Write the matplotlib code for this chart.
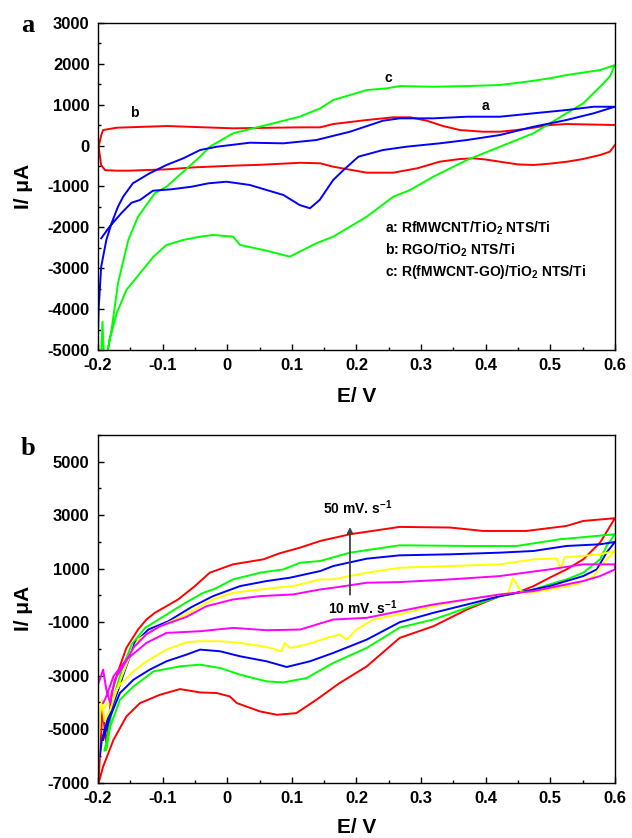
import numpy as np
import matplotlib
matplotlib.use("Agg")
import matplotlib.pyplot as plt
from matplotlib.ticker import MultipleLocator, FixedLocator, FuncFormatter

plt.rcParams['font.family'] = ['Liberation Sans', 'DejaVu Sans']
plt.rcParams['font.weight'] = 'bold'
plt.rcParams['axes.unicode_minus'] = False
plt.rcParams['mathtext.fontset'] = 'custom'
plt.rcParams['mathtext.rm'] = 'Liberation Sans:bold'
plt.rcParams['mathtext.it'] = 'Liberation Sans:bold'
plt.rcParams['mathtext.bf'] = 'Liberation Sans:bold'

# ---- panel a: three electrodes, CV loops (E in V, I in uA) ----
a_blue_E = [-0.195, -0.182, -0.164, -0.148, -0.135, -0.115, -0.086, -0.055, -0.029, -0.001, 0.035, 0.061,
            0.087, 0.112, 0.128, 0.143, 0.164, 0.18, 0.203, 0.241, 0.277, 0.329, 0.371, 0.422, 0.474, 0.525,
            0.567, 0.6, 0.567, 0.525, 0.474, 0.422, 0.371, 0.319, 0.267, 0.241, 0.19, 0.138, 0.087, 0.035,
            -0.016, -0.042, -0.068, -0.094, -0.12, -0.146, -0.161, -0.169, -0.179, -0.187, -0.195, -0.199, -0.201]
a_blue_I = [-2267, -1983, -1655, -1396, -1330, -1103, -1068, -1005, -922, -883, -963, -1086,
            -1208, -1452, -1533, -1330, -841, -597, -271, -108, -27, 56, 137, 259, 462, 626,
            790, 951, 951, 870, 790, 707, 707, 667, 667, 609, 340, 137, 56, 71,
            -27, -108, -311, -474, -677, -922, -1249, -1494, -1900, -2308, -2961, -4000, -5400]

a_red_E = [0.6, 0.592, 0.577, 0.55, 0.526, 0.5, 0.474, 0.45, 0.422, 0.4, 0.381, 0.36, 0.329, 0.294, 0.257,
           0.216, 0.164, 0.144, 0.113, 0.05, 0.009, -0.05, -0.093, -0.153, -0.171, -0.189, -0.195, -0.199,
           -0.195, -0.192, -0.171, -0.093, 0.009, 0.113, 0.144, 0.164, 0.216, 0.257, 0.283, 0.309, 0.334,
           0.36, 0.396, 0.422, 0.448, 0.474, 0.5, 0.525, 0.6]
a_red_I = [15, -150, -230, -330, -393, -440, -474, -460, -393, -340, -311, -328, -393, -555, -662,
           -662, -516, -433, -420, -470, -491, -531, -580, -613, -613, -600, -480, -27,
           250, 381, 438, 479, 423, 447, 447, 528, 626, 692, 692, 609, 479,
           381, 340, 340, 381, 438, 504, 528, 504]

a_green_E = [-0.196, -0.193, -0.19, -0.185, -0.179, -0.169, -0.153, -0.138, -0.112, -0.094, -0.068, -0.042,
             -0.027, 0.009, 0.061, 0.112, 0.144, 0.164, 0.216, 0.247, 0.267, 0.319, 0.371, 0.422, 0.463,
             0.499, 0.525, 0.577, 0.6, 0.592, 0.577, 0.551, 0.525, 0.474, 0.422, 0.371, 0.319, 0.283,
             0.257, 0.216, 0.164, 0.138, 0.112, 0.097, 0.061, 0.02, 0.009, -0.022, -0.042, -0.068, -0.094,
             -0.114, -0.135, -0.156, -0.171, -0.182, -0.188]
a_green_I = [-5500, -4306, -5500, -5000, -4509, -3367, -2308, -1738, -1166, -1005, -638, -271,
             -27, 301, 504, 707, 912, 1115, 1359, 1401, 1457, 1440, 1457, 1482, 1562,
             1645, 1726, 1848, 1971, 1685, 1440, 1034, 790, 301, -27, -352, -760, -1086,
             -1250, -1738, -2227, -2389, -2594, -2716, -2570, -2430, -2227, -2186, -2227, -2308, -2430,
             -2716, -3122, -3531, -4100, -4753, -5400]

a_curve_tags = ['a', 'b', 'c']
a_tag_pos = [(0.399, 968), (-0.143, 805), (0.249, 1661)]
a_legend = ['a: RfMWCNT/TiO$_2$ NTS/Ti', 'b: RGO/TiO$_2$ NTS/Ti', 'c: R(fMWCNT-GO)/TiO$_2$ NTS/Ti']

# ---- panel b: scan rates 10..50 mV/s ----
b_red_E = [-0.199, -0.193, -0.187, -0.179, -0.168, -0.156, -0.138, -0.125, -0.112, -0.094, -0.076, -0.063,
           -0.05, -0.027, 0.009, 0.056, 0.081, 0.113, 0.144, 0.19, 0.267, 0.345, 0.396, 0.463, 0.525, 0.551,
           0.6, 0.577, 0.551, 0.525, 0.499, 0.474, 0.448, 0.422, 0.371, 0.319, 0.267, 0.216, 0.174, 0.138,
           0.107, 0.077, 0.051, 0.015, 0.004, -0.016, -0.042, -0.073, -0.104, -0.135, -0.156, -0.176,
           -0.192, -0.2]
b_red_I = [-6900, -4211, -5586, -3649, -2774, -1960, -1274, -899, -649, -400, -149, 101,
           351, 852, 1164, 1351, 1576, 1790, 2038, 2289, 2564, 2540, 2413, 2413, 2600, 2787,
           2889, 1976, 1351, 976, 664, 351, 101, -25, -524, -1150, -1585, -2650, -3274, -3899,
           -4399, -4461, -4336, -4024, -3775, -3649, -3625, -3500, -3712, -4024, -4524, -5399,
           -6400, -7100]

b_green_E = [-0.19, -0.184, -0.174, -0.163, -0.148, -0.127, -0.102, -0.073, -0.06, -0.037, -0.019, 0.009,
             0.051, 0.087, 0.113, 0.144, 0.19, 0.267, 0.371, 0.448, 0.515, 0.6, 0.587, 0.577, 0.551, 0.525,
             0.499, 0.474, 0.422, 0.371, 0.319, 0.267, 0.216, 0.164, 0.123, 0.087, 0.061, 0.02, -0.011,
             -0.042, -0.073, -0.114, -0.145, -0.166, -0.181, -0.187]
b_green_I = [-5800, -5149, -3649, -2774, -1836, -1211, -836, -400, -212, 100, 251, 601,
             852, 976, 1226, 1289, 1601, 1876, 1851, 1851, 2101, 2289, 1851, 1351, 851, 601,
             414, 226, -25, -461, -899, -1200, -1960, -2524, -3086, -3250, -3212, -2961, -2711,
             -2586, -2650, -2837, -3399, -3899, -4899, -5774]

b_blue_E = [-0.197, -0.194, -0.184, -0.174, -0.158, -0.143, -0.122, -0.091, -0.055, -0.022, 0.02, 0.061,
            0.097, 0.144, 0.164, 0.216, 0.267, 0.345, 0.422, 0.474, 0.525, 0.577, 0.6, 0.587, 0.572, 0.551,
            0.525, 0.499, 0.463, 0.422, 0.371, 0.319, 0.267, 0.216, 0.164, 0.128, 0.092, 0.061, 0.02,
            -0.011, -0.042, -0.063, -0.094, -0.12, -0.145, -0.166, -0.181, -0.192]
b_blue_I = [-6000, -5399, -4524, -3899, -2774, -1774, -1274, -962, -430, -25, 351, 539,
            664, 914, 1101, 1376, 1501, 1539, 1601, 1664, 1851, 1914, 2001, 1601, 976, 726,
            539, 351, 164, -25, -337, -649, -1000, -1649, -2149, -2461, -2674, -2461, -2274,
            -2086, -2024, -2211, -2461, -2774, -3149, -3649, -4524, -5399]

b_yellow_E = [-0.2, -0.197, -0.194, -0.19, -0.181, -0.169, -0.153, -0.138, -0.112, -0.081, -0.063, -0.032,
              -0.019, 0.009, 0.061, 0.102, 0.144, 0.164, 0.216, 0.267, 0.345, 0.422, 0.474, 0.51, 0.516,
              0.522, 0.577, 0.6, 0.587, 0.567, 0.541, 0.499, 0.468, 0.455, 0.442, 0.435, 0.422, 0.371,
              0.319, 0.267, 0.226, 0.2, 0.185, 0.174, 0.154, 0.123, 0.097, 0.089, 0.084, 0.061, 0.02,
              -0.011, -0.042, -0.063, -0.094, -0.125, -0.145, -0.166, -0.181, -0.192]
b_yellow_I = [-6300, -4500, -3899, -4700, -4274, -3399, -2399, -1649, -1250, -900, -700, -274,
              -124, 101, 251, 351, 601, 601, 852, 1039, 1101, 1164, 1351, 1380, 1000,
              1420, 1539, 1664, 1351, 726, 414, 226, 100, 150, 650, 90, 39, -149,
              -399, -700, -899, -1274, -1649, -1462, -1586, -1836, -1961, -1774, -2086, -1924, -1774,
              -1711, -1711, -1749, -2024, -2461, -2837, -3337, -3899, -4274]

b_magenta_E = [-0.2, -0.192, -0.187, -0.181, -0.174, -0.161, -0.145, -0.125, -0.104, -0.063, -0.032, 0.009,
               0.051, 0.102, 0.144, 0.164, 0.216, 0.267, 0.345, 0.422, 0.499, 0.551, 0.6, 0.6, 0.577,
               0.551, 0.525, 0.474, 0.422, 0.371, 0.319, 0.267, 0.216, 0.164, 0.113, 0.061, 0.009,
               -0.042, -0.094, -0.125, -0.156, -0.176, -0.187, -0.192]
b_magenta_I = [-3337, -2774, -3524, -4024, -3149, -2649, -1950, -1450, -1150, -800, -400, -149,
               -25, 39, 226, 289, 476, 501, 601, 726, 976, 1164, 1164, 976, 726,
               539, 414, 164, 39, -149, -337, -587, -836, -899, -1274, -1299, -1211,
               -1337, -1399, -1774, -2399, -3024, -3774, -4024]

b_series = [(b_red_E, b_red_I, '#ff0000'), (b_green_E, b_green_I, '#00ff00'), (b_blue_E, b_blue_I, '#0000ff'),
            (b_yellow_E, b_yellow_I, '#ffff00'), (b_magenta_E, b_magenta_I, '#ff00ff')]


def style_axes(ax):
    ax.tick_params(which='both', direction='in', top=False, right=False, width=1, labelsize=12, pad=6)
    ax.tick_params(which='major', length=4)
    ax.tick_params(which='minor', length=2.5)
    ax.xaxis.set_major_locator(MultipleLocator(0.1))
    ax.xaxis.set_minor_locator(MultipleLocator(0.05))
    ax.xaxis.set_major_formatter(FuncFormatter(lambda v, p: f"{v:.1f}".replace('-0.0', '0').replace('0.0', '0')))
    for s in ax.spines.values():
        s.set_linewidth(1.0)
    for lab in ax.get_xticklabels() + ax.get_yticklabels():
        lab.set_fontweight('bold')


fig = plt.figure(figsize=(6.32, 8.38), dpi=100)

ax1 = fig.add_axes([0.155, 0.5823, 0.818, 0.3903])
ax1.plot(a_red_E, a_red_I, color='#ff0000', lw=1.4)
ax1.plot(a_green_E, a_green_I, color='#00ff00', lw=1.4)
ax1.plot(a_blue_E, a_blue_I, color='#0000ff', lw=1.4)
ax1.set_xlim(-0.2, 0.6)
ax1.set_ylim(-5000, 3000)
ax1.yaxis.set_major_locator(MultipleLocator(1000))
ax1.yaxis.set_minor_locator(MultipleLocator(500))
style_axes(ax1)
for tag, (x, y) in zip(a_curve_tags, a_tag_pos):
    ax1.text(x, y, tag, fontsize=10, fontweight='bold', ha='center', va='center')
for i, txt in enumerate(a_legend):
    ax1.text(0.555, 0.372 - i * 0.066, txt, transform=ax1.transAxes, fontsize=10,
             fontweight='bold', ha='left', va='center')
ax1.set_xlabel('E/ V', fontsize=15, fontweight='bold')
ax1.set_ylabel('I/ μA', fontsize=15, fontweight='bold')
ax1.xaxis.set_label_coords(0.5, -0.112)
ax1.yaxis.set_label_coords(-0.126, 0.5)

ax2 = fig.add_axes([0.155, 0.066, 0.818, 0.4149])
for E, I, c in b_series:
    ax2.plot(E, I, color=c, lw=1.4)
ax2.set_xlim(-0.2, 0.6)
ax2.set_ylim(-7000, 6000)
ax2.yaxis.set_major_locator(FixedLocator(np.arange(-7000, 6000, 2000)))
ax2.yaxis.set_minor_locator(FixedLocator(np.arange(-6000, 6001, 2000)))
style_axes(ax2)
ax2.annotate('', xy=(0.19, 2663), xytext=(0.19, -74),
             arrowprops=dict(arrowstyle='-|>', color='#404040', lw=1.3, mutation_scale=8))
ax2.text(0.148, 3300, '50 mV. s$^{-1}$', fontsize=10, fontweight='bold', ha='left', va='center')
ax2.text(0.156, -449, '10 mV. s$^{-1}$', fontsize=10, fontweight='bold', ha='left', va='center')
ax2.set_xlabel('E/ V', fontsize=15, fontweight='bold')
ax2.set_ylabel('I/ μA', fontsize=15, fontweight='bold')
ax2.xaxis.set_label_coords(0.5, -0.102)
ax2.yaxis.set_label_coords(-0.126, 0.5)

fig.text(0.044, 1 - 25 / 838, 'a', family='Liberation Serif', fontsize=19, fontweight='bold',
         ha='center', va='center')
fig.text(0.045, 1 - 448 / 838, 'b', family='Liberation Serif', fontsize=19, fontweight='bold',
         ha='center', va='center')

fig.savefig('out.png', dpi=100)
